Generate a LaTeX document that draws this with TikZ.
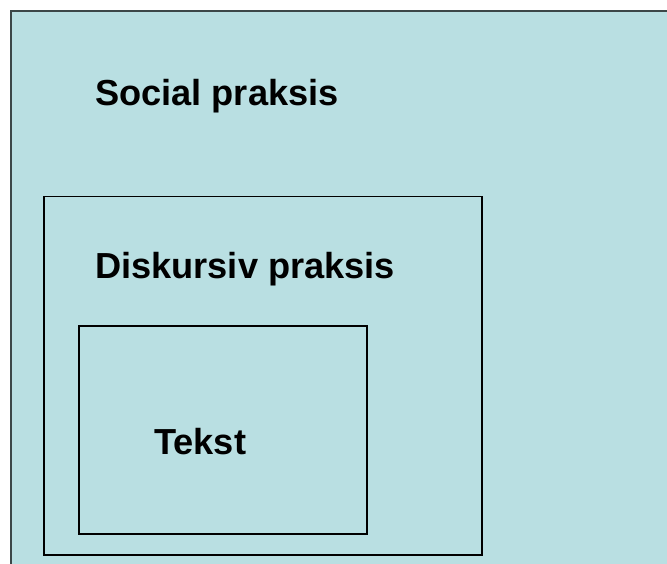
\documentclass[tikz,border=0pt]{standalone}
\usepackage{fontspec}
\setmainfont{Liberation Sans}
\usetikzlibrary{calc}
\definecolor{bgcyan}{HTML}{B9DFE2}
\definecolor{rimgray}{HTML}{3C4748}
\tikzset{
  level/.style={draw=black,line width=1.2pt},
  label/.style={anchor=base west,inner sep=0pt,font=\bfseries\fontsize{36.2}{40}\selectfont}
}

\begin{document}
\begin{tikzpicture}[x=1pt,y=-1pt]
  \useasboundingbox (0,0) rectangle (667,563);

  % outer box runs off the page at right and bottom
  \coordinate (S1) at (10.5,10.5);
  \coordinate (S2) at (700,600);
  \begin{scope}
    \clip (0,0) rectangle (667,563);
    \fill[bgcyan] (S1) rectangle (S2);
    \draw[rimgray,line width=2pt] (S1|-S2) -- (S1) -- (S1-|S2);
  \end{scope}

  \coordinate (D1) at (44,196.5);
  \coordinate (D2) at (482,555);
  \draw[level] (D1) rectangle (D2);

  \coordinate (T1) at (79,326);
  \coordinate (T2) at (367,534);
  \draw[level,line width=1.1pt] (T1) rectangle (T2);

  \node[label] (social) at (95,105) {Social praksis};
  \node[label] (diskursiv) at (95,278) {Diskursiv praksis};
  \node[label] (tekst) at (154,454) {Tekst};
\end{tikzpicture}
\end{document}
